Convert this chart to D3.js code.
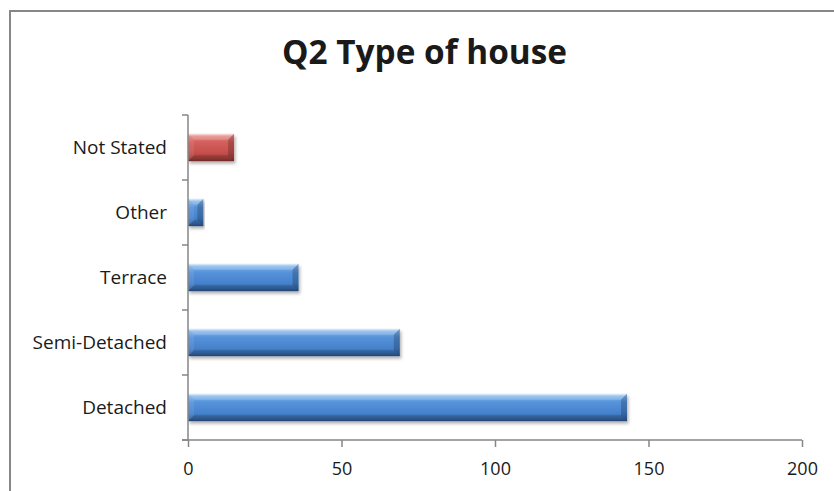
<!DOCTYPE html>
<html>
<head>
<meta charset="utf-8">
<script src="https://cdn.jsdelivr.net/npm/d3@7"></script>
<style>
  html, body { margin: 0; padding: 0; background: #ffffff; }
  svg { display: block; }
  text { font-family: "Open Sans", "Noto Sans", sans-serif; fill: #1a1a1a; }
</style>
</head>
<body>
<svg id="chart" width="834" height="491"></svg>
<script>
// House type survey counts (Q2)
const categories = ["Detached", "Semi-Detached", "Terrace", "Other", "Not Stated"];
const values = [143, 69, 36, 5, 15];
const xTicks = [0, 50, 100, 150, 200];
const title = "Q2 Type of house";
const highlighted = "Not Stated";

const svg = d3.select("#chart");
const W = 834, H = 491;

// Chart frame
svg.append("path")
  .attr("d", `M10,${H + 5} L10,11 L${W + 5},11`)
  .attr("fill", "none")
  .attr("stroke", "#878787")
  .attr("stroke-width", 2);

const plot = { left: 188, right: 802, top: 115, bottom: 440 };

const x = d3.scaleLinear().domain([0, 200]).range([plot.left, plot.right]);
const y = d3.scaleBand()
  .domain(categories.slice().reverse())
  .range([plot.top, plot.bottom])
  .paddingInner(0.58)
  .paddingOuter(0.29);

// Gradients and shadow
const defs = svg.append("defs");
function grad(id, stops) {
  const g = defs.append("linearGradient").attr("id", id)
    .attr("x1", 0).attr("y1", 0).attr("x2", 0).attr("y2", 1);
  stops.forEach(([o, c]) => g.append("stop").attr("offset", o).attr("stop-color", c));
}
grad("gBlue", [["0", "#b3d5f6"], ["0.1", "#80b4ec"], ["0.3", "#5793da"], ["0.7", "#4682cc"], ["0.9", "#3568a8"], ["1", "#2a5186"]]);
grad("gRed", [["0", "#f3b2b0"], ["0.1", "#e4827f"], ["0.3", "#d45f5c"], ["0.7", "#c54f4c"], ["0.9", "#a33f3c"], ["1", "#822f2d"]]);
const f = defs.append("filter").attr("id", "shadow")
  .attr("x", "-5%").attr("y", "-30%").attr("width", "115%").attr("height", "170%");
f.append("feDropShadow").attr("dx", 1.5).attr("dy", 2.5).attr("stdDeviation", 1.6)
  .attr("flood-color", "#000").attr("flood-opacity", 0.3);

// Bars with bevelled edges
const bars = svg.append("g");
categories.forEach((c, i) => {
  const x0 = x(0), x1 = x(values[i]);
  const y0 = y(c), h = y.bandwidth(), y1 = y0 + h;
  const b = Math.min(6, (x1 - x0) / 2);
  const g = bars.append("g");
  g.append("rect")
    .attr("x", x0).attr("y", y0)
    .attr("width", x1 - x0).attr("height", h)
    .attr("fill", c === highlighted ? "url(#gRed)" : "url(#gBlue)")
    .attr("filter", "url(#shadow)");
  const poly = (pts, fill, op) => g.append("polygon")
    .attr("points", pts.map(p => p.join(",")).join(" "))
    .attr("fill", fill).attr("fill-opacity", op);
  // top bevel
  poly([[x0, y0], [x1, y0], [x1 - b, y0 + b], [x0 + b, y0 + b]], "#ffffff", 0.18);
  // bottom bevel
  poly([[x0, y1], [x1, y1], [x1 - b, y1 - b], [x0 + b, y1 - b]], "#000000", 0.14);
  // left bevel
  poly([[x0, y0], [x0 + b, y0 + b], [x0 + b, y1 - b], [x0, y1]], "#ffffff", 0.08);
  // right bevel
  poly([[x1, y0], [x1 - b, y0 + b], [x1 - b, y1 - b], [x1, y1]], "#000000", 0.2);
  // thin highlight along the top edge
  g.append("line")
    .attr("x1", x0 + 1).attr("x2", x1 - 1)
    .attr("y1", y0 + 0.75).attr("y2", y0 + 0.75)
    .attr("stroke", "#ffffff").attr("stroke-opacity", 0.35).attr("stroke-width", 1.5);
});

const axisColor = "#868686";

// X axis
const xAxis = svg.append("g")
  .attr("transform", `translate(0,${plot.bottom})`)
  .call(d3.axisBottom(x).tickValues(xTicks).tickSize(7).tickSizeOuter(0).tickPadding(15));
xAxis.select(".domain").remove();
xAxis.selectAll(".tick line").attr("stroke", axisColor).attr("stroke-width", 1.5);
xAxis.selectAll(".tick text")
  .attr("font-size", 18).attr("fill", "#1a1a1a")
  .style("font-family", "'Open Sans', sans-serif");
svg.append("line")
  .attr("x1", plot.left - 6).attr("x2", plot.right)
  .attr("y1", plot.bottom).attr("y2", plot.bottom)
  .attr("stroke", axisColor).attr("stroke-width", 1.5);

// Y axis: line, ticks at category boundaries, labels at category centres
svg.append("line")
  .attr("x1", plot.left).attr("x2", plot.left)
  .attr("y1", plot.top).attr("y2", plot.bottom)
  .attr("stroke", axisColor).attr("stroke-width", 1.5);
const step = y.step();
d3.range(categories.length + 1).forEach(i => {
  const ty = plot.top + i * step;
  svg.append("line")
    .attr("x1", plot.left - 6).attr("x2", plot.left)
    .attr("y1", ty).attr("y2", ty)
    .attr("stroke", axisColor).attr("stroke-width", 1.5);
});
svg.append("g").selectAll("text")
  .data(categories)
  .join("text")
  .attr("x", plot.left - 21)
  .attr("y", d => y(d) + y.bandwidth() / 2)
  .attr("dy", "0.33em")
  .attr("text-anchor", "end")
  .attr("font-size", 19)
  .text(d => d);

// Title
svg.append("text")
  .attr("x", 424.5).attr("y", 64)
  .attr("text-anchor", "middle")
  .attr("font-size", 34)
  .attr("font-weight", "bold")
  .attr("fill", "#000")
  .attr("textLength", 285)
  .attr("lengthAdjust", "spacingAndGlyphs")
  .text(title);
</script>
</body>
</html>
